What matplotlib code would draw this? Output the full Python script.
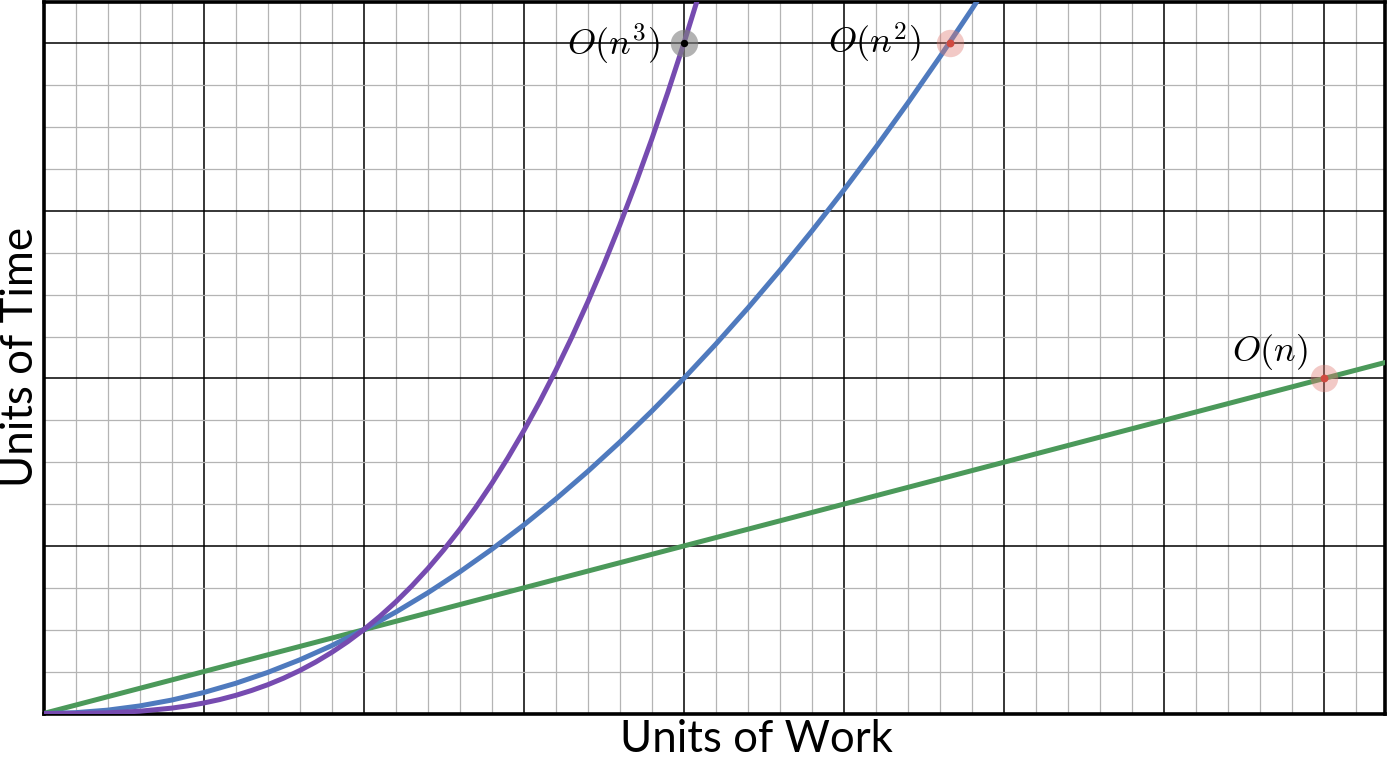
import numpy as np
import matplotlib.pyplot as plt
from matplotlib.ticker import MultipleLocator

plt.rcParams['mathtext.fontset'] = 'cm'

# values (n in units of work, time in units of time)
n_lin = [0.0, 1.0, 2.0, 3.0, 4.0, 4.2]
t_lin = [0.0, 1.0, 2.0, 3.0, 4.0, 4.2]

n_sq = [0.0, 0.1, 0.2, 0.3, 0.4, 0.5, 0.6, 0.7, 0.8, 0.9, 1.0, 1.1, 1.2, 1.3, 1.4,
        1.5, 1.6, 1.7, 1.8, 1.9, 2.0, 2.1, 2.2, 2.3, 2.4, 2.5, 2.6, 2.7, 2.8, 2.9, 3.0]
t_sq = [0.0, 0.01, 0.04, 0.09, 0.16, 0.25, 0.36, 0.49, 0.64, 0.81, 1.0, 1.21, 1.44,
        1.69, 1.96, 2.25, 2.56, 2.89, 3.24, 3.61, 4.0, 4.41, 4.84, 5.29, 5.76, 6.25,
        6.76, 7.29, 7.84, 8.41, 9.0]

n_cube = [0.0, 0.1, 0.2, 0.3, 0.4, 0.45, 0.5, 0.55, 0.6, 0.65, 0.7, 0.75, 0.8, 0.85,
          0.9, 0.95, 1.0, 1.05, 1.1, 1.15, 1.2, 1.25, 1.3, 1.35, 1.4, 1.45, 1.5, 1.55,
          1.6, 1.65, 1.7, 1.75, 1.8, 1.85, 1.9, 1.95, 2.0, 2.05, 2.1]
t_cube = [0.0, 0.001, 0.008, 0.027, 0.064, 0.091, 0.125, 0.166, 0.216, 0.275, 0.343,
          0.422, 0.512, 0.614, 0.729, 0.857, 1.0, 1.158, 1.331, 1.521, 1.728, 1.953,
          2.197, 2.460, 2.744, 3.049, 3.375, 3.724, 4.096, 4.492, 4.913, 5.359, 5.832,
          6.332, 6.859, 7.415, 8.0, 8.615, 9.261]

# highlighted points and their labels
pt_labels = [r'$O(n^3)$', r'$O(n^2)$', r'$O(n)$']
pt_n = [2.0, 2.83, 4.0]
pt_t = [8.0, 8.0, 4.0]

fig = plt.figure(figsize=(13.87, 7.62), dpi=100)
W, H = 1387, 762
ax = fig.add_axes([43.5 / W, (H - 713.5) / H, (1385 - 43.5) / W, (713.5 - 1.5) / H])

ax.set_xlim(0, 4.19)
ax.set_ylim(0, 8.5)

ax.xaxis.set_major_locator(MultipleLocator(0.5))
ax.xaxis.set_minor_locator(MultipleLocator(0.1))
ax.yaxis.set_major_locator(MultipleLocator(2))
ax.yaxis.set_minor_locator(MultipleLocator(0.5))
ax.grid(which='minor', color='#b4b4b4', linewidth=0.9)
ax.grid(which='major', color='black', linewidth=1.1)
ax.set_axisbelow(True)
ax.tick_params(which='both', length=0, labelbottom=False, labelleft=False)
for side in ['left', 'right', 'top', 'bottom']:
    ax.spines[side].set_linewidth(2.6)

ax.plot(n_lin, t_lin, color='#4b995a', lw=3.6, zorder=3)
ax.plot(n_sq, t_sq, color='#4f7abe', lw=3.6, zorder=3)
ax.plot(n_cube, t_cube, color='#764bb0', lw=3.6, zorder=3)

# marker halos and dots
ax.scatter([pt_n[0]], [pt_t[0]], s=390, color='#808080', alpha=0.6, lw=0, zorder=4)
ax.scatter([pt_n[0]], [pt_t[0]], s=28, color='black', lw=0, zorder=5)
ax.scatter(pt_n[1:], pt_t[1:], s=390, color='#e07a72', alpha=0.4, lw=0, zorder=4)
ax.scatter(pt_n[1:], pt_t[1:], s=32, color='#d04a40', lw=0, zorder=5)

ax.text(pt_n[0] - 0.075, pt_t[0], pt_labels[0], fontsize=26, ha='right', va='center', zorder=6)
ax.text(pt_n[1] - 0.09, pt_t[1], pt_labels[1], fontsize=26, ha='right', va='center', zorder=6)
ax.text(pt_n[2] - 0.17, pt_t[2] + 0.08, pt_labels[2], fontsize=26, ha='center', va='bottom', zorder=6)

fig.text(756 / W, 1 - 740 / H, 'Units of Work', fontsize=31.5, family='Lato',
         ha='center', va='center')
fig.text(21 / W, 1 - 357 / H, 'Units of Time', fontsize=31.5, family='Lato',
         ha='center', va='center', rotation=90)

fig.savefig('out.png', dpi=100)
